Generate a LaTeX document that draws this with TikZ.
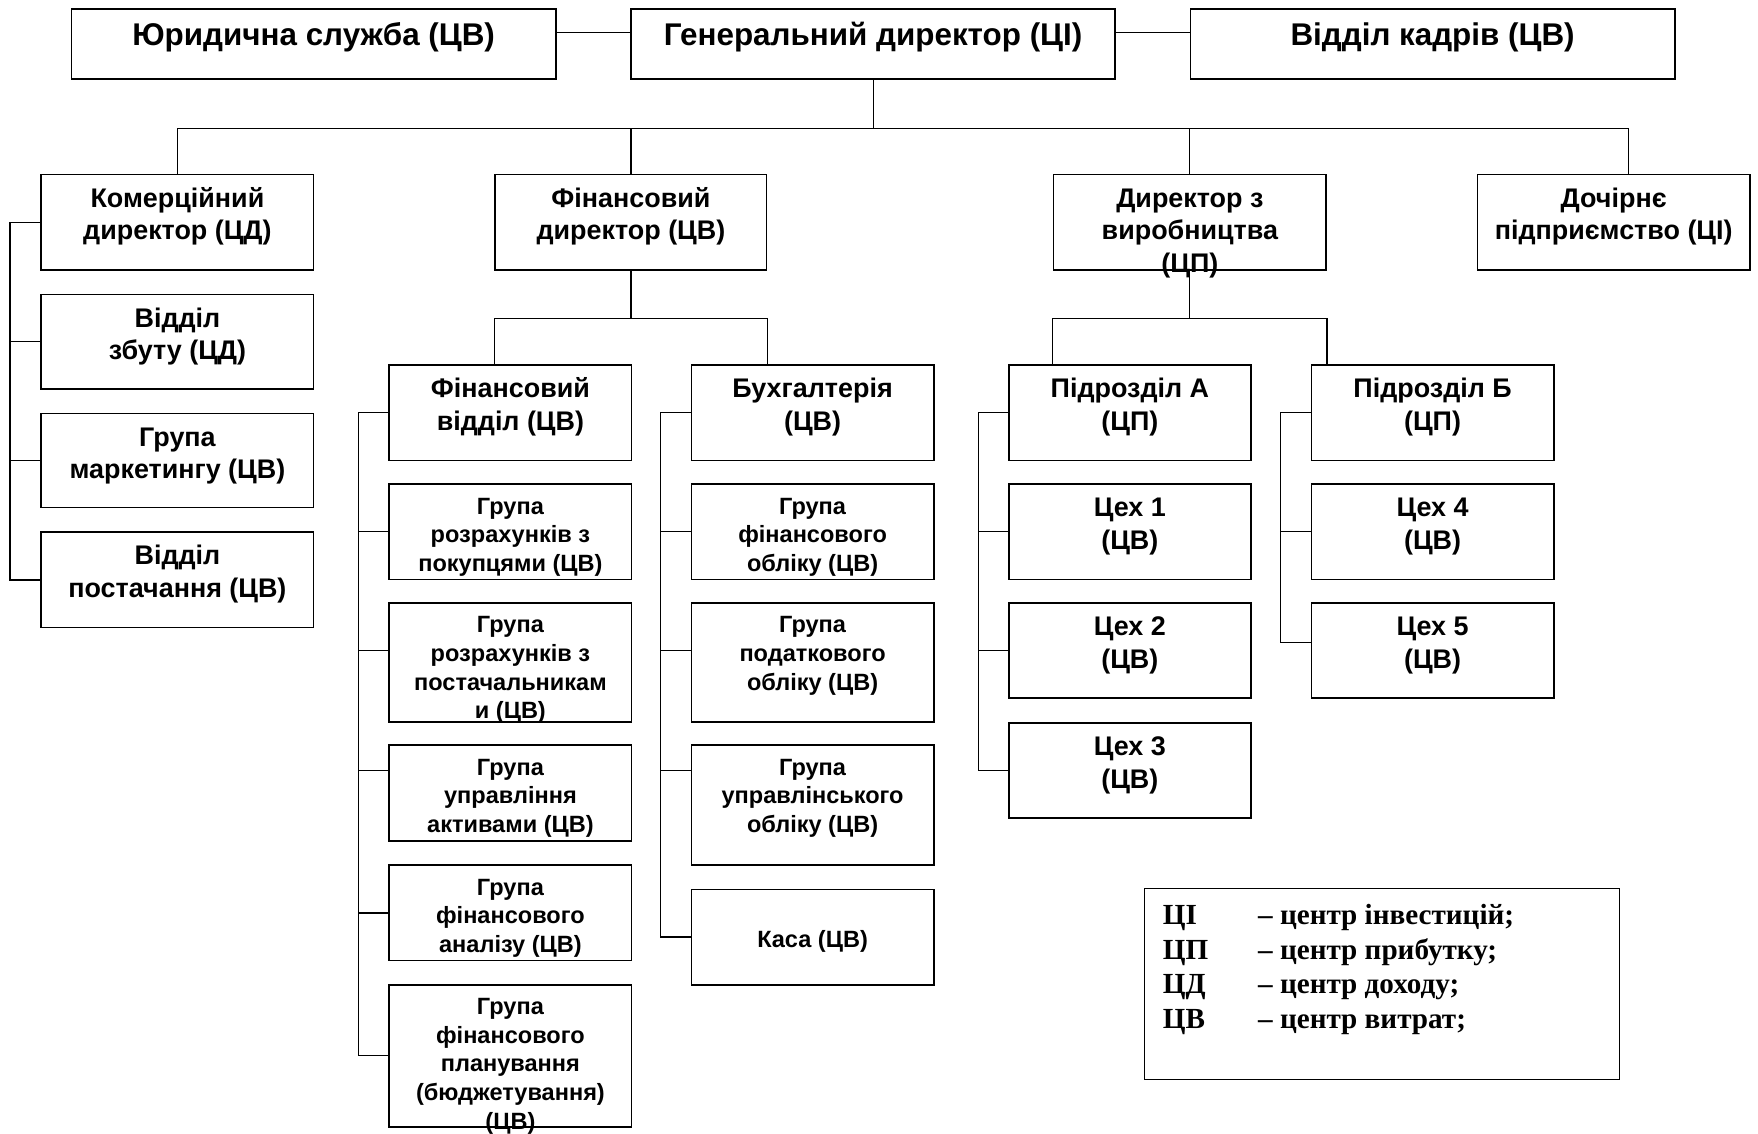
\documentclass[tikz,border=0pt]{standalone}
\usepackage{fontspec}
\setmainfont{Liberation Sans}
\newfontfamily\tnr{Liberation Serif}
\usetikzlibrary{calc}
\newcommand\fst{\rule{0pt}{1em}}
\begin{document}
\begin{tikzpicture}[x=1pt,y=-1pt,
  box/.style={draw, line width=1.5pt, anchor=north west, inner sep=0pt},
  con/.style={line width=1.1pt},
  tA/.style={anchor=north, inner sep=0pt, align=center, font=\bfseries\fontsize{28}{33}\selectfont},
  tB/.style={anchor=north, inner sep=0pt, align=center, font=\bfseries\fontsize{24}{29}\selectfont},
  tC/.style={anchor=north, inner sep=0pt, align=center, font=\bfseries\fontsize{21}{25.5}\selectfont},
  lg/.style={anchor=base west, inner sep=0pt, font=\tnr\bfseries\fontsize{26}{30}\selectfont}]
\useasboundingbox (0,0) rectangle (1568,1011);

% ---- boxes ----
\node[box, minimum width=432, minimum height=63] (jur) at (63,7) {};
\node[box, minimum width=432, minimum height=63] (gen) at (562,7) {};
\node[box, minimum width=432, minimum height=63] (kadr) at (1061,7) {};

\node[box, minimum width=243, minimum height=85] (kom) at (36,155) {};
\node[box, minimum width=242, minimum height=85] (fin) at (441,155) {};
\node[box, minimum width=243, minimum height=85] (dir) at (939,155) {};
\node[box, minimum width=243, minimum height=85] (doch) at (1317,155) {};

\node[box, minimum width=243, minimum height=84] (zb) at (36,262) {};
\node[box, minimum width=243, minimum height=84] (mk) at (36,368) {};
\node[box, minimum width=243, minimum height=85] (post) at (36,474) {};

\node[box, minimum width=216, minimum height=85] (fv) at (346.5,325) {};
\node[box, minimum width=216, minimum height=85] (g1) at (346.5,431) {};
\node[box, minimum width=216, minimum height=106.5] (g2) at (346.5,537) {};
\node[box, minimum width=216, minimum height=85.5] (g3) at (346.5,664) {};
\node[box, minimum width=216, minimum height=85] (g4) at (346.5,771) {};
\node[box, minimum width=216, minimum height=127] (g5) at (346.5,877.5) {};

\node[box, minimum width=216, minimum height=85] (buh) at (616,325) {};
\node[box, minimum width=216, minimum height=85] (b1) at (616,431) {};
\node[box, minimum width=216, minimum height=106.5] (b2) at (616,537) {};
\node[box, minimum width=216, minimum height=107] (b3) at (616,664) {};
\node[box, minimum width=216, minimum height=85] (kasa) at (616,792.5) {};

\node[box, minimum width=216, minimum height=85] (pa) at (899,325) {};
\node[box, minimum width=216, minimum height=85] (c1) at (899,431) {};
\node[box, minimum width=216, minimum height=85] (c2) at (899,537) {};
\node[box, minimum width=216, minimum height=85] (c3) at (899,644) {};

\node[box, minimum width=216, minimum height=85] (pb) at (1169,325) {};
\node[box, minimum width=216, minimum height=85] (c4) at (1169,431) {};
\node[box, minimum width=216, minimum height=85] (c5) at (1169,537) {};

\node[box, line width=1.3pt, minimum width=424, minimum height=170] (leg) at (1020,792) {};

% ---- texts ----
\node[tA] (t-jur) at ([yshift=-5.4pt]jur.north) {\fst Юридична служба (ЦВ)};
\node[tA] (t-gen) at ([yshift=-5.4pt]gen.north) {\fst Генеральний директор (ЦІ)};
\node[tA] (t-kadr) at ([yshift=-5.4pt]kadr.north) {\fst Відділ кадрів (ЦВ)};

\node[tB] (t-kom) at ([yshift=-5.7pt]kom.north) {\fst Комерційний\\директор (ЦД)};
\node[tB] (t-fin) at ([yshift=-5.7pt]fin.north) {\fst Фінансовий\\директор (ЦВ)};
\node[tB] (t-dir) at ([yshift=-5.7pt]dir.north) {\fst Директор з\\виробництва\\(ЦП)};
\node[tB] (t-doch) at ([yshift=-5.7pt]doch.north) {\fst Дочірнє\\підприємство (ЦІ)};

\node[tB] (t-zb) at ([yshift=-5.7pt]zb.north) {\fst Відділ\\збуту (ЦД)};
\node[tB] (t-mk) at ([yshift=-5.7pt]mk.north) {\fst Група\\маркетингу (ЦВ)};
\node[tB] (t-post) at ([yshift=-5.7pt]post.north) {\fst Відділ\\постачання (ЦВ)};

\node[tB] (t-fv) at ([yshift=-5.7pt]fv.north) {\fst Фінансовий\\відділ (ЦВ)};
\node[tC] (t-g1) at ([yshift=-6.3pt]g1.north) {\fst Група\\розрахунків з\\покупцями (ЦВ)};
\node[tC] (t-g2) at ([yshift=-6.3pt]g2.north) {\fst Група\\розрахунків з\\постачальникам\\и (ЦВ)};
\node[tC] (t-g3) at ([yshift=-6.3pt]g3.north) {\fst Група\\управління\\активами (ЦВ)};
\node[tC] (t-g4) at ([yshift=-6.3pt]g4.north) {\fst Група\\фінансового\\аналізу (ЦВ)};
\node[tC] (t-g5) at ([yshift=-6.3pt]g5.north) {\fst Група\\фінансового\\планування\\(бюджетування)\\(ЦВ)};

\node[tB] (t-buh) at ([yshift=-5.7pt]buh.north) {\fst Бухгалтерія\\(ЦВ)};
\node[tC] (t-b1) at ([yshift=-6.3pt]b1.north) {\fst Група\\фінансового\\обліку (ЦВ)};
\node[tC] (t-b2) at ([yshift=-6.3pt]b2.north) {\fst Група\\податкового\\обліку (ЦВ)};
\node[tC] (t-b3) at ([yshift=-6.3pt]b3.north) {\fst Група\\управлінського\\обліку (ЦВ)};
\node[tC] (t-kasa) at ([yshift=-31.3pt]kasa.north) {\fst Каса (ЦВ)};

\node[tB] (t-pa) at ([yshift=-5.7pt]pa.north) {\fst Підрозділ А\\(ЦП)};
\node[tB] (t-c1) at ([yshift=-5.7pt]c1.north) {\fst Цех 1\\(ЦВ)};
\node[tB] (t-c2) at ([yshift=-5.7pt]c2.north) {\fst Цех 2\\(ЦВ)};
\node[tB] (t-c3) at ([yshift=-5.7pt]c3.north) {\fst Цех 3\\(ЦВ)};
\node[tB] (t-pb) at ([yshift=-5.7pt]pb.north) {\fst Підрозділ Б\\(ЦП)};
\node[tB] (t-c4) at ([yshift=-5.7pt]c4.north) {\fst Цех 4\\(ЦВ)};
\node[tB] (t-c5) at ([yshift=-5.7pt]c5.north) {\fst Цех 5\\(ЦВ)};

% legend
\node[lg] (l1a) at ($(leg.north west)+(17,33)$) {ЦІ};
\node[lg] (l1b) at ($(leg.north west)+(102,33)$) {– центр інвестицій;};
\node[lg] (l2a) at ($(leg.north west)+(17,63.7)$) {ЦП};
\node[lg] (l2b) at ($(leg.north west)+(102,63.7)$) {– центр прибутку;};
\node[lg] (l3a) at ($(leg.north west)+(17,94.4)$) {ЦД};
\node[lg] (l3b) at ($(leg.north west)+(102,94.4)$) {– центр доходу;};
\node[lg] (l4a) at ($(leg.north west)+(17,125.1)$) {ЦВ};
\node[lg] (l4b) at ($(leg.north west)+(102,125.1)$) {– центр витрат;};

% ---- connectors ----
\draw[con] ([yshift=10.5pt]jur.east) -- ([yshift=10.5pt]gen.west);
\draw[con] ([yshift=10.5pt]gen.east) -- ([yshift=10.5pt]kadr.west);

\coordinate (j0) at ($(gen.south)+(0,43)$);
\draw[con] (gen.south) -- (j0);
\draw[con] (kom.north) |- (j0);
\draw[con] (fin.north) -- (fin.north |- j0);
\draw[con] (dir.north) -- (dir.north |- j0);
\draw[con] ([xshift=13.5pt]doch.north) |- (j0);

\coordinate (j1) at ($(fin.south)+(0,42.5)$);
\draw[con] (fin.south) -- (j1);
\draw[con] (fv.north -| fin.west) |- (j1);
\draw[con] (buh.north -| fin.east) |- (j1);

\coordinate (j2) at ($(dir.south)+(0,42.5)$);
\draw[con] (dir.south) -- (j2);
\draw[con] (pa.north -| dir.west) |- (j2);
\draw[con] (pb.north -| dir.east) |- (j2);

% commercial bracket
\coordinate (kb) at ($(kom.west)+(-27,0)$);
\draw[con] (kom.west) -- (kb) |- (post.west);
\draw[con] (zb.west) -- (zb.west -| kb);
\draw[con] (mk.west) -- (mk.west -| kb);

% financial dept bracket
\coordinate (fb) at ($(fv.west)+(-26.7,0)$);
\draw[con] (fv.west) -- (fb) |- (g5.west);
\draw[con] (g1.west) -- (g1.west -| fb);
\draw[con] ([yshift=10.5pt]g2.west) -- ([yshift=10.5pt]g2.west -| fb);
\draw[con] ([yshift=20.4pt]g3.west) -- ([yshift=20.4pt]g3.west -| fb);
\draw[con] (g4.west) -- (g4.west -| fb);

% accounting bracket
\coordinate (bb) at ($(buh.west)+(-27,0)$);
\draw[con] (buh.west) -- (bb) |- (kasa.west);
\draw[con] (b1.west) -- (b1.west -| bb);
\draw[con] ([yshift=10.5pt]b2.west) -- ([yshift=10.5pt]b2.west -| bb);
\draw[con] ([yshift=31.3pt]b3.west) -- ([yshift=31.3pt]b3.west -| bb);

% subdivision A bracket
\coordinate (ab) at ($(pa.west)+(-26,0)$);
\draw[con] (pa.west) -- (ab) |- (c3.west);
\draw[con] (c1.west) -- (c1.west -| ab);
\draw[con] (c2.west) -- (c2.west -| ab);

% subdivision B bracket
\coordinate (bbb) at ($(pb.west)+(-27,0)$);
\draw[con] (pb.west) -- (bbb) |- ([yshift=7pt]c5.west);
\draw[con] (c4.west) -- (c4.west -| bbb);
\end{tikzpicture}
\end{document}
